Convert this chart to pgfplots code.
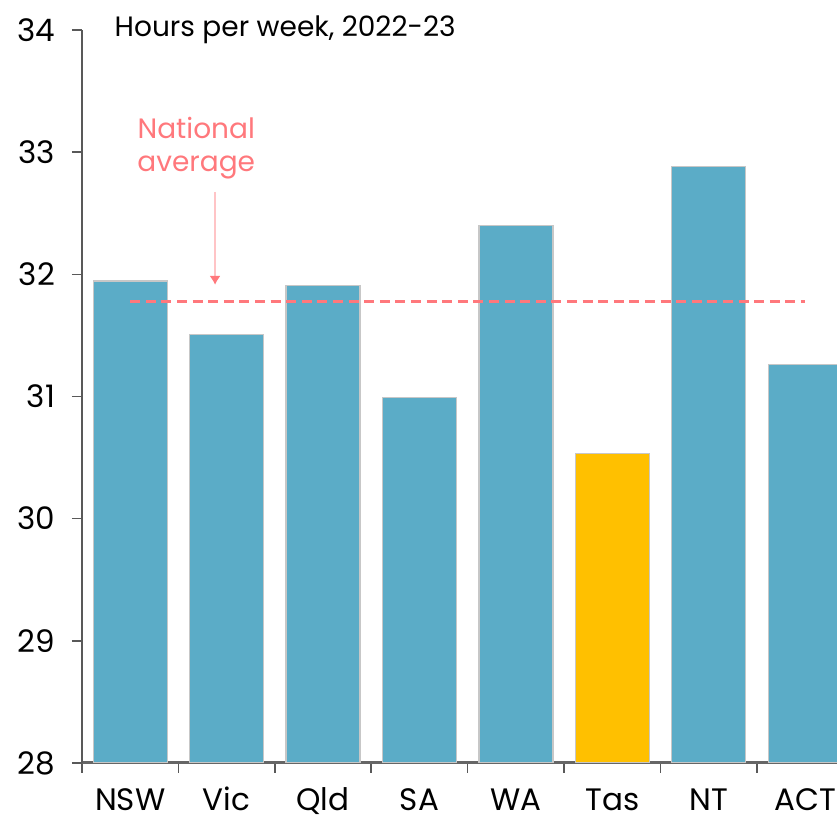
\documentclass[border=0pt]{standalone}
\usepackage{fontspec}
\setmainfont{Poppins}
\usepackage{pgfplots}
\pgfplotsset{compat=1.18}
\usetikzlibrary{arrows.meta}
\definecolor{barblue}{RGB}{91,172,199}
\definecolor{baryellow}{RGB}{255,192,0}
\definecolor{avgpink}{RGB}{255,120,124}
\definecolor{arrowpink}{RGB}{255,196,198}
\definecolor{axisgrey}{RGB}{89,89,89}
\begin{document}
\begin{tikzpicture}
\begin{axis}[
  scale only axis,
  width=377.5pt, height=366.5pt,
  xmin=-0.5, xmax=7.33,
  ymin=28, ymax=34,
  ytick={28,29,30,31,32,33,34},
  xtick={0,1,2,3,4,5,6,7},
  xticklabels={NSW,Vic,Qld,SA,WA,Tas,NT,ACT},
  minor xtick={-0.5,0.5,1.5,2.5,3.5,4.5,5.5,6.5},
  major x tick style={draw=none},
  minor x tick style={axisgrey, line width=0.8pt},
  minor tick length=5pt,
  y tick style={axisgrey, line width=0.8pt},
  major tick length=5pt,
  tick align=outside,
  axis x line*=bottom,
  axis y line*=left,
  x axis line style={draw=gray!80!black, line width=1.5pt, -},
  y axis line style={draw=axisgrey, line width=0.8pt, -},
  /pgf/number format/assume math mode=true,
  tick label style={font=\fontsize{15.5}{18}\selectfont, text=black},
  yticklabel style={xshift=-5pt},
  xticklabel style={yshift=-7pt, text height=11.5pt, text depth=0pt, inner xsep=0pt, inner ysep=0pt},
  clip mode=individual,
]
\addplot[ybar, bar width=37pt, fill=barblue, draw=black!22, line width=0.6pt]
  coordinates {(0,31.945) (1,31.505) (2,31.91) (3,30.99) (4,32.40) (6,32.88) (7,31.26)};
\addplot[ybar, bar width=37pt, fill=baryellow, draw=black!22, line width=0.6pt]
  coordinates {(5,30.535)};
\addplot[avgpink, line width=1.6pt, dash pattern=on 5pt off 2.8pt]
  coordinates {(0,31.776) (7,31.776)};
\addplot[arrowpink, line width=0.85pt, -{Latex[length=4.5pt,width=5.5pt,color=avgpink]}]
  coordinates {(0.88,32.674) (0.88,31.913)};
\node[anchor=base west, font=\fontsize{14}{16}\selectfont] at (rel axis cs:0.034,0.9905) {Hours per week, 2022-23};
\node[align=center, text=avgpink, font=\fontsize{14}{16.5}\selectfont] at (axis cs:0.685,33.03) {National\\average};
\end{axis}
\pgfresetboundingbox
\useasboundingbox ([shift={(-41pt,-27pt)}]current axis.south west) rectangle ([shift={(0pt,15pt)}]current axis.north east);
\end{tikzpicture}
\end{document}
